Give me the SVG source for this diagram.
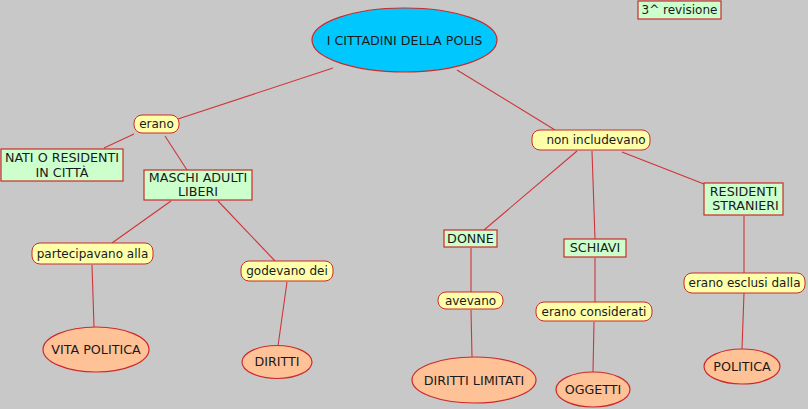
<svg xmlns="http://www.w3.org/2000/svg" width="808" height="409" viewBox="0 0 808 409">
<style>
text{font-family:"DejaVu Sans","Verdana",sans-serif;font-size:12px;fill:#1a1a1a;text-anchor:middle}
text.c{font-size:12.7px}
.lk{fill:#FFFFAA;stroke:#CC2A2A;stroke-width:1}
.cp{fill:#CCFFCC;stroke:#CC2A2A;stroke-width:1.2}
.el{fill:#FFC196;stroke:#CC2A2A;stroke-width:1.2}
.main{fill:#00C8FF;stroke:#CC2A2A;stroke-width:1.2}
#connectors line{stroke:#D0343A;stroke-width:1.1}
</style>
<rect width="808" height="409" fill="#C8C8C8"/>
<g id="connectors">
<line x1="333" y1="68" x2="178" y2="119"/>
<line x1="457" y1="70" x2="555" y2="130"/>
<line x1="104" y1="148" x2="134" y2="134"/>
<line x1="165" y1="136" x2="187" y2="170"/>
<line x1="171" y1="201" x2="112" y2="243"/>
<line x1="218" y1="201" x2="275" y2="261"/>
<line x1="92" y1="265" x2="94" y2="327"/>
<line x1="287" y1="282" x2="278" y2="346"/>
<line x1="577" y1="151" x2="484" y2="230"/>
<line x1="592" y1="151" x2="595" y2="239"/>
<line x1="622" y1="152" x2="704" y2="184"/>
<line x1="744" y1="216" x2="744" y2="273"/>
<line x1="471" y1="248" x2="471" y2="292"/>
<line x1="471" y1="310" x2="472" y2="357"/>
<line x1="595" y1="258" x2="595" y2="302"/>
<line x1="594" y1="322" x2="593" y2="372"/>
<line x1="744" y1="293" x2="742" y2="349"/>
</g>
<g id="n-main"><ellipse class="main" cx="404.5" cy="40" rx="92.5" ry="32"/><text class="c" x="404.5" y="45">I CITTADINI DELLA POLIS</text></g>
<g id="n-rev"><rect class="cp" x="638" y="1" width="83" height="18"/><text x="679.5" y="14">3^ revisione</text></g>
<g id="n-erano"><rect class="lk" x="134" y="115" width="45" height="18" rx="8"/><text x="156.5" y="128">erano</text></g>
<g id="n-nati"><rect class="cp" x="1" y="149" width="122" height="32"/><text class="c" x="62" y="162">NATI O RESIDENTI</text><text class="c" x="62" y="177">IN CITTÀ</text></g>
<g id="n-maschi"><rect class="cp" x="144" y="170" width="108" height="30"/><text class="c" x="198" y="182">MASCHI ADULTI</text><text class="c" x="198" y="196">LIBERI</text></g>
<g id="n-partecipavano"><rect class="lk" x="32" y="243" width="121" height="21" rx="8"/><text x="92.5" y="258">partecipavano alla</text></g>
<g id="n-godevano"><rect class="lk" x="241" y="261" width="92" height="20" rx="8"/><text x="287" y="275">godevano dei</text></g>
<g id="n-vita"><ellipse class="el" cx="96" cy="349.5" rx="53" ry="22.5"/><text class="c" x="96" y="354">VITA POLITICA</text></g>
<g id="n-diritti"><ellipse class="el" cx="277" cy="362" rx="35" ry="16.5"/><text class="c" x="277" y="366">DIRITTI</text></g>
<g id="n-non"><rect class="lk" x="532" y="130" width="118" height="20" rx="8"/><text x="596" y="144">non includevano</text></g>
<g id="n-donne"><rect class="cp" x="444" y="230" width="53" height="17"/><text class="c" x="470.5" y="243">DONNE</text></g>
<g id="n-schiavi"><rect class="cp" x="564" y="239" width="62" height="18"/><text class="c" x="595" y="252">SCHIAVI</text></g>
<g id="n-residenti"><rect class="cp" x="704" y="183" width="79" height="32"/><text class="c" x="743.5" y="196">RESIDENTI</text><text class="c" x="745.5" y="210">STRANIERI</text></g>
<g id="n-avevano"><rect class="lk" x="438" y="292" width="65" height="17" rx="8"/><text x="470.5" y="305">avevano</text></g>
<g id="n-considerati"><rect class="lk" x="536" y="302" width="116" height="19" rx="8"/><text x="594" y="316">erano considerati</text></g>
<g id="n-esclusi"><rect class="lk" x="684" y="273" width="121" height="20" rx="8"/><text x="744.5" y="287">erano esclusi dalla</text></g>
<g id="n-limitati"><ellipse class="el" cx="474" cy="380" rx="62" ry="23"/><text class="c" x="474" y="385">DIRITTI LIMITATI</text></g>
<g id="n-oggetti"><ellipse class="el" cx="593" cy="389.5" rx="37" ry="17.5"/><text class="c" x="593" y="394">OGGETTI</text></g>
<g id="n-politica"><ellipse class="el" cx="742" cy="366.5" rx="38" ry="17.5"/><text class="c" x="742" y="371">POLITICA</text></g>
</svg>
